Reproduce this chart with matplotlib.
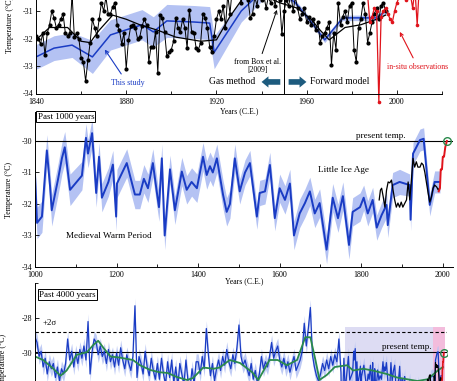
import numpy as np
import matplotlib
matplotlib.use("Agg")
import matplotlib.pyplot as plt
from matplotlib.patches import Rectangle

plt.rcParams['font.family'] = ['Liberation Serif', 'DejaVu Serif']
plt.rcParams['axes.unicode_minus'] = False

# ---- panel 1: 1840 - present ----
box_years = list(range(1840, 1996))
box_temp = [
    -31.9, -32.0, -32.2, -31.8, -32.6, -31.8, -31.5, -31.0, -31.25, -31.6,
    -31.5, -31.3, -31.1, -31.8, -31.9, -31.8, -30.4, -31.95, -31.8, -32.0,
    -32.7, -32.85, -33.55, -32.8, -32.15, -31.3, -31.6, -31.9, -31.3, -30.7,
    -31.0, -30.5, -31.1, -31.1, -30.85, -30.7, -31.5, -31.7, -32.2, -31.8,
    -33.1, -32.05, -31.55, -31.5, -31.6, -32.0, -31.95, -31.55, -31.3, -31.5,
    -32.85, -32.3, -32.3, -31.75, -33.25, -31.15, -31.25, -31.75, -32.65, -32.5,
    -32.4, -32.1, -31.25, -31.6, -31.75, -31.3, -31.6, -32.35, -30.95, -31.75,
    -31.8, -32.35, -32.4, -32.15, -31.1, -31.25, -31.6, -32.3, -32.5, -31.9,
    -31.3, -31.0, -31.3, -30.8, -31.6, -30.4, -31.1, -30.2, -30.5, -30.0,
    -30.3, -30.7, -29.9, -30.4, -30.6, -31.25, -31.1, -30.5, -30.8, -30.2,
    -30.6, -30.4, -30.9, -30.5, -30.7, -30.3, -30.8, -30.4, -30.6, -31.85,
    -31.0, -30.6, -30.8, -30.4, -31.0, -30.5, -30.9, -31.3, -31.1, -30.9,
    -31.4, -31.2, -31.5, -31.3, -31.7, -31.4, -32.15, -31.9, -31.8, -31.6,
    -31.4, -32.95, -31.8, -32.4, -30.7, -31.5, -31.2, -31.0, -31.4, -30.8,
    -30.7, -32.4, -32.85, -31.6, -31.3, -30.7, -31.1, -32.15, -31.8, -31.4,
    -31.1, -30.9, -31.3, -30.8, -30.7, -31.0]

box_smooth_years = [1840, 1846, 1854, 1860, 1864, 1868, 1874, 1880, 1886, 1894, 1902, 1913,
                    1920, 1926, 1932, 1940, 1948, 1956, 1962, 1966, 1970, 1977, 1984, 1991, 1995]
box_smooth = [-32.05, -31.6, -31.6, -32.1, -32.15, -31.7, -31.15, -31.3, -31.5, -31.7, -31.95, -32.1,
              -32.05, -31.2, -30.5, -30.4, -30.7, -30.9, -31.3, -31.7, -32.05, -31.6, -31.5, -31.3, -31.15]

study_years = [1840, 1848, 1856, 1865, 1873, 1887, 1892, 1898, 1910, 1917, 1919, 1931, 1940,
               1945, 1950, 1955, 1962, 1968, 1976, 1991, 1995]
study_temp = [-32.67, -32.35, -32.24, -32.67, -31.87, -31.5, -31.76, -31.36, -31.4, -31.44, -32.5,
              -31.0, -30.3, -30.0, -30.4, -30.7, -31.4, -32.05, -31.25, -31.25, -31.0]
study_err = [0.45, 0.45, 0.45, 0.6, 0.55, 0.55, 0.55, 0.6, 0.6, 0.6, 0.6, 0.4, 0.35,
             0.35, 0.1, 0.1, 0.1, 0.1, 0.1, 0.1, 0.1]

insitu_years = list(range(1987, 2011))
insitu_temp = [-30.4, -31.4, -31.2, -30.9, -31.0, -34.3, -31.2, -31.0, -30.9, -31.1, -31.3, -31.4,
               -31.0, -30.7, -30.5, -30.3, -30.1, -30.6, -30.2, -30.4, -30.9, -30.2, -31.5, -30.0]

# ---- panel 2: past 1000 years ----
mid_years = [1000, 1005, 1017, 1029, 1037, 1041, 1056, 1066, 1073, 1086,
             1115, 1125, 1130, 1140, 1150, 1157, 1164, 1180, 1191, 1199,
             1201, 1225, 1237, 1245, 1257, 1267, 1277, 1289, 1299, 1304,
             1311, 1318, 1331, 1343, 1360, 1372, 1384, 1397, 1409, 1412,
             1421, 1429, 1436, 1446, 1461, 1470, 1478, 1490, 1502, 1515,
             1527, 1544, 1551, 1564, 1576, 1588, 1600, 1613, 1625, 1635,
             1649, 1662, 1674, 1686, 1698, 1715, 1730, 1743, 1755, 1770,
             1779, 1797, 1806, 1816, 1828, 1838, 1850, 1862, 1865, 1877,
             1894, 1919, 1921, 1927, 1935, 1944, 1953, 1968, 1980, 1993]
mid_temp = [-31.1, -32.6, -32.4, -30.3, -31.45, -32.2, -31.25, -30.55, -30.2, -31.55,
            -31.1, -29.9, -30.4, -29.75, -31.65, -30.5, -31.8, -31.3, -30.75, -32.4,
            -31.35, -30.7, -31.3, -31.7, -31.7, -31.2, -31.5, -30.7, -31.65, -32.1,
            -30.55, -33.0, -30.9, -32.2, -30.97, -31.55, -31.3, -31.5, -30.7, -30.5,
            -31.08, -30.8, -31.0, -30.55, -31.7, -32.25, -32.0, -30.55, -31.6, -31.0,
            -30.7, -32.4, -31.65, -31.6, -30.76, -32.45, -31.5, -31.87, -31.35, -33.0,
            -32.3, -31.97, -31.6, -32.3, -31.97, -33.45, -31.8, -32.45, -31.75, -33.3,
            -32.25, -32.1, -31.8, -32.3, -31.87, -32.75, -32.35, -32.03, -32.67, -31.4,
            -31.3, -31.4, -32.5, -30.4, -30.2, -29.97, -29.93, -32.03, -31.3, -31.3]
# uncertainty (1 sigma, C) read per century 1000s ... 1900s
mid_err_century = [0.5, 0.45, 0.45, 0.45, 0.45, 0.4, 0.45, 0.45, 0.4, 0.35]

box5_years = [1844, 1847, 1850, 1854, 1858, 1862, 1866, 1870, 1874, 1878, 1882, 1886, 1890,
              1894, 1898, 1902, 1907, 1911, 1915, 1919, 1923, 1927, 1931, 1935, 1939, 1944,
              1948, 1952, 1956, 1960, 1964, 1968, 1972, 1976, 1980, 1985, 1989, 1993]
box5_temp = [-31.87, -31.56, -31.5, -31.78, -32.1, -31.56, -31.3, -31.33, -31.24, -31.56, -31.87,
             -32.1, -31.97, -32.1, -31.94, -32.1, -31.97, -31.87, -31.3, -31.87, -31.24, -30.55,
             -30.83, -30.66, -30.83, -30.83, -30.7, -30.76, -31.0, -31.33, -31.65, -31.94, -31.78,
             -31.5, -31.4, -31.46, -31.56, -31.46]

obs_years = [1990, 1993, 1995, 1998, 2000, 2003, 2006, 2010]
obs_temp = [-31.6, -31.5, -30.9, -30.9, -30.5, -30.5, -30.2, -30.0]

present_temp = -30.0
present_year = 2010

# ---- panel 3: past 4000 years (20-yr values before 1000 C.E.) ----
old_years = list(range(-2000, 1000, 20))
old_temp = [
    -29.1, -29.4, -30.2, -29.9, -30.8, -30.3, -31.2, -30.5, -30.9, -30.6,
    -31.4, -30.8, -31.6, -30.9, -31.2, -30.6, -29.2, -30.4, -29.9, -30.8,
    -30.0, -30.6, -29.8, -30.3, -29.6, -30.4, -28.2, -31.2, -29.9, -29.2,
    -29.4, -30.1, -29.6, -30.2, -29.9, -30.6, -29.8, -30.5, -30.1, -30.8,
    -30.0, -30.7, -29.7, -30.4, -30.9, -30.1, -30.6, -31.0, -30.2, -27.3,
    -31.4, -30.2, -30.6, -31.2, -29.9, -30.8, -31.3, -30.3, -31.0, -31.5,
    -30.6, -31.5, -30.3, -31.2, -31.8, -30.5, -31.4, -30.4, -31.7, -30.8,
    -31.9, -30.6, -31.2, -31.8, -30.4, -31.6, -32.0, -30.9, -31.7, -30.5,
    -30.5, -31.2, -30.2, -30.9, -28.6, -30.1, -31.3, -30.6, -31.6, -30.9,
    -30.4, -31.0, -30.2, -30.7, -29.8, -30.5, -30.9, -30.1, -30.6, -29.7,
    -28.4, -30.2, -30.7, -30.4, -30.9, -31.3, -30.6, -31.5, -31.0, -31.7,
    -31.2, -30.2, -30.9, -30.5, -30.8, -30.2, -29.4, -30.3, -29.9, -29.6,
    -30.4, -30.8, -30.3, -30.9, -30.5, -31.1, -30.6, -30.2, -31.0, -30.7,
    -30.4, -29.9, -28.3, -29.6, -28.6, -27.4, -30.1, -30.8, -31.3, -31.6,
    -31.2, -30.6, -31.0, -30.4, -30.9, -30.2, -30.7, -30.1, -30.5, -29.2]
old_err = 0.45

smooth_years = [-2000, -1920, -1820, -1750, -1690, -1590, -1490, -1430, -1380, -1330, -1260, -1170,
                -1040, -970, -870, -780, -700, -610, -510, -450, -350, -250, -190, -90, 10, 130,
                190, 300, 380, 470, 570, 650, 700, 750, 790, 860, 940, 1060, 1120, 1220, 1310,
                1450, 1550, 1650, 1750, 1850, 1950, 2000]
smooth_temp = [-30.2, -30.4, -30.9, -31.3, -31.0, -30.1, -29.95, -29.55, -29.3, -29.7, -30.2, -30.26,
               -30.4, -30.7, -30.97, -31.1, -31.14, -31.37, -31.54, -31.43, -30.83, -30.9, -30.83,
               -30.4, -30.57, -31.1, -31.54, -30.4, -30.4, -30.7, -30.4, -29.1, -29.1, -30.4,
               -31.54, -31.26, -30.8, -30.7, -31.0, -30.9, -31.0, -31.2, -31.4, -31.5, -31.6,
               -31.5, -31.0, -30.8]
plus_2sigma = -28.8
mid_span = (1040, 1900)
top_span = (1900, 2025)

BLUE = '#1a3cc4'
BAND = '#b4c2f3'
RED = '#e0141c'
GREEN = '#2a8a4c'
ARROW = '#1d5b7e'

fig = plt.figure(figsize=(4.57, 3.81), dpi=100)


def style(ax):
    ax.patch.set_visible(False)   # so labels of the panel above stay visible
    for s in ['top', 'right']:
        ax.spines[s].set_visible(False)
    for s in ['left', 'bottom']:
        ax.spines[s].set_linewidth(0.7)
    ax.tick_params(which='both', direction='in', labelsize=5.8, width=0.6)
    ax.tick_params(axis='x', pad=3)
    ax.tick_params(axis='y', pad=2)
    ax.tick_params(which='major', length=3)
    ax.tick_params(which='minor', length=2)


# ---------------- top panel ----------------
ax1 = fig.add_axes([36 / 457, 1 - 93.5 / 381, 406 / 457, 137.5 / 381])
style(ax1)
st = np.array(study_temp)
se = np.array(study_err)
ax1.fill_between(study_years, st - se, st + se, color=BAND, lw=0)
ax1.plot(study_years, study_temp, color=BLUE, lw=1.1)
ax1.plot(box_years, box_temp, '-o', color='k', lw=0.7, ms=2.0)
ax1.plot(box_smooth_years, box_smooth, color='k', lw=0.9)
ax1.plot(insitu_years, insitu_temp, '-o', color=RED, lw=0.9, ms=1.6, clip_on=False)
ax1.axvline(1950, color='k', lw=0.7)
ax1.set_xlim(1840, 2020)
ax1.set_ylim(-34, -29)
ax1.set_xticks([1840, 1880, 1920, 1960, 2000])
ax1.set_xticks(range(1860, 2021, 40), minor=True)
ax1.set_yticks([-34, -33, -32, -31, -30, -29])
ax1.set_xlabel('Years (C.E.)', fontsize=5.6, labelpad=1)
ax1.set_ylabel('Temperature (°C)', fontsize=5.8, labelpad=6)

ax1.annotate('This study', xy=(1870.5, -32.4), xytext=(1880.5, -33.62), ha='center', va='center',
             fontsize=5.8, color=BLUE,
             arrowprops=dict(arrowstyle='->', color=BLUE, lw=0.8, shrinkA=2, shrinkB=0))
ax1.annotate('from Box et al.\n[2009]', xy=(1946.8, -30.96), xytext=(1938.4, -33.0), ha='center',
             va='center', fontsize=5.6, linespacing=1.1,
             arrowprops=dict(arrowstyle='->', color='k', lw=0.7, shrinkA=1, shrinkB=0))
ax1.annotate('in-situ observations', xy=(2001.3, -31.76), xytext=(2009.3, -33.04), ha='center',
             va='center', fontsize=5.6, color=RED,
             arrowprops=dict(arrowstyle='->', color=RED, lw=0.8, shrinkA=2, shrinkB=0))
ax1.text(1926.9, -33.58, 'Gas method', ha='center', va='center', fontsize=6.9)
ax1.text(1974.8, -33.58, 'Forward model', ha='center', va='center', fontsize=6.9)
fat = dict(arrowstyle='simple,head_length=0.55,head_width=0.9,tail_width=0.45',
           fc=ARROW, ec='none', mutation_scale=9, shrinkA=0, shrinkB=0)
ax1.annotate('', xy=(1940.0, -33.58), xytext=(1948.3, -33.58), arrowprops=fat)
ax1.annotate('', xy=(1959.9, -33.58), xytext=(1952.0, -33.58), arrowprops=fat)

# ---------------- middle panel ----------------
ax2 = fig.add_axes([35 / 457, 1 - 267 / 381, 418 / 457, 155 / 381])
style(ax2)
mt = np.array(mid_temp)
me = np.array([mid_err_century[(y - 1000) // 100] for y in mid_years])
ax2.fill_between(mid_years, mt - me, mt + me, color=BAND, lw=0)
ax2.axhline(present_temp, color='k', lw=0.8)
ax2.plot(mid_years, mid_temp, color=BLUE, lw=1.4)
ax2.plot(box5_years, box5_temp, color='k', lw=0.9)
ax2.plot(obs_years, obs_temp, color=RED, lw=1.4)
ax2.plot([present_year], [present_temp], 'o', mfc='none', mec=GREEN, mew=1.0, ms=5.5)
ax2.set_xlim(1000, 2025)
ax2.set_ylim(-34, -29.08)
ax2.set_xticks(range(1000, 2001, 200))
ax2.set_xticks(range(1100, 2001, 200), minor=True)
ax2.set_yticks([-34, -33, -32, -31, -30])
ax2.set_yticks([-29.08], minor=True)
ax2.set_xlabel('Years (C.E.)', fontsize=5.6, labelpad=-1.5)
ax2.set_ylabel('Temperature (°C)', fontsize=5.8, labelpad=6)
ax2.text(0.006, 0.995, 'Past 1000 years', transform=ax2.transAxes, ha='left', va='top', fontsize=6.5,
         bbox=dict(boxstyle='square,pad=0.15', fc='white', ec='k', lw=0.7))
ax2.text(1181, -33.02, 'Medieval Warm Period', ha='center', va='center', fontsize=6.6)
ax2.text(1757, -30.92, 'Little Ice Age', ha='center', va='center', fontsize=6.7)
ax2.text(1848, -29.98, 'present temp.', ha='center', va='bottom', fontsize=6.6)

# ---------------- bottom panel ----------------
ax3 = fig.add_axes([35 / 457, 1 - 423 / 381, 412 / 457, 140 / 381])
style(ax3)
ax3.add_patch(Rectangle((mid_span[0], -34), mid_span[1] - mid_span[0], 5.5, fc='#dddcf3', ec='none'))
ax3.add_patch(Rectangle((top_span[0], -34), top_span[1] - top_span[0], 5.5, fc='#f3bcdc', ec='none'))
long_years = old_years + mid_years
long_temp = np.array(old_temp + mid_temp)
long_err = np.concatenate([np.full(len(old_years), old_err), me])
ax3.fill_between(long_years, long_temp - long_err, long_temp + long_err, color=BAND, lw=0, alpha=0.85)
ax3.axhline(plus_2sigma, color='k', lw=0.8, dashes=(3, 2))
ax3.axhline(present_temp + 0.05, color='k', lw=0.8)
ax3.plot(long_years, long_temp, color=BLUE, lw=0.9)
ax3.plot(smooth_years, smooth_temp, color=GREEN, lw=1.3)
ax3.plot(box5_years, box5_temp, color='k', lw=0.8)
ax3.plot(obs_years, obs_temp, color=RED, lw=1.2)
ax3.plot([present_year], [present_temp], 'o', mfc='none', mec=GREEN, mew=1.0, ms=5.5)
ax3.set_xlim(-2000, 2040)
ax3.set_ylim(-34, -26)
ax3.set_yticks([-34, -32, -30, -28])
ax3.set_yticks([-26], minor=True)
ax3.set_ylabel('Temperature (°C)', fontsize=5.8)
ax3.yaxis.set_label_coords(-0.068, 0.436)
ax3.text(0.01, 0.945, 'Past 4000 years', transform=ax3.transAxes, ha='left', va='top', fontsize=6.5,
         bbox=dict(boxstyle='square,pad=0.15', fc='white', ec='k', lw=0.7))
ax3.text(-1853, -28.3, '+2σ', ha='center', va='center', fontsize=6.3)
ax3.text(1647, -29.66, 'present temp.', ha='center', va='center', fontsize=6.6)

fig.savefig('out.png', dpi=100)
